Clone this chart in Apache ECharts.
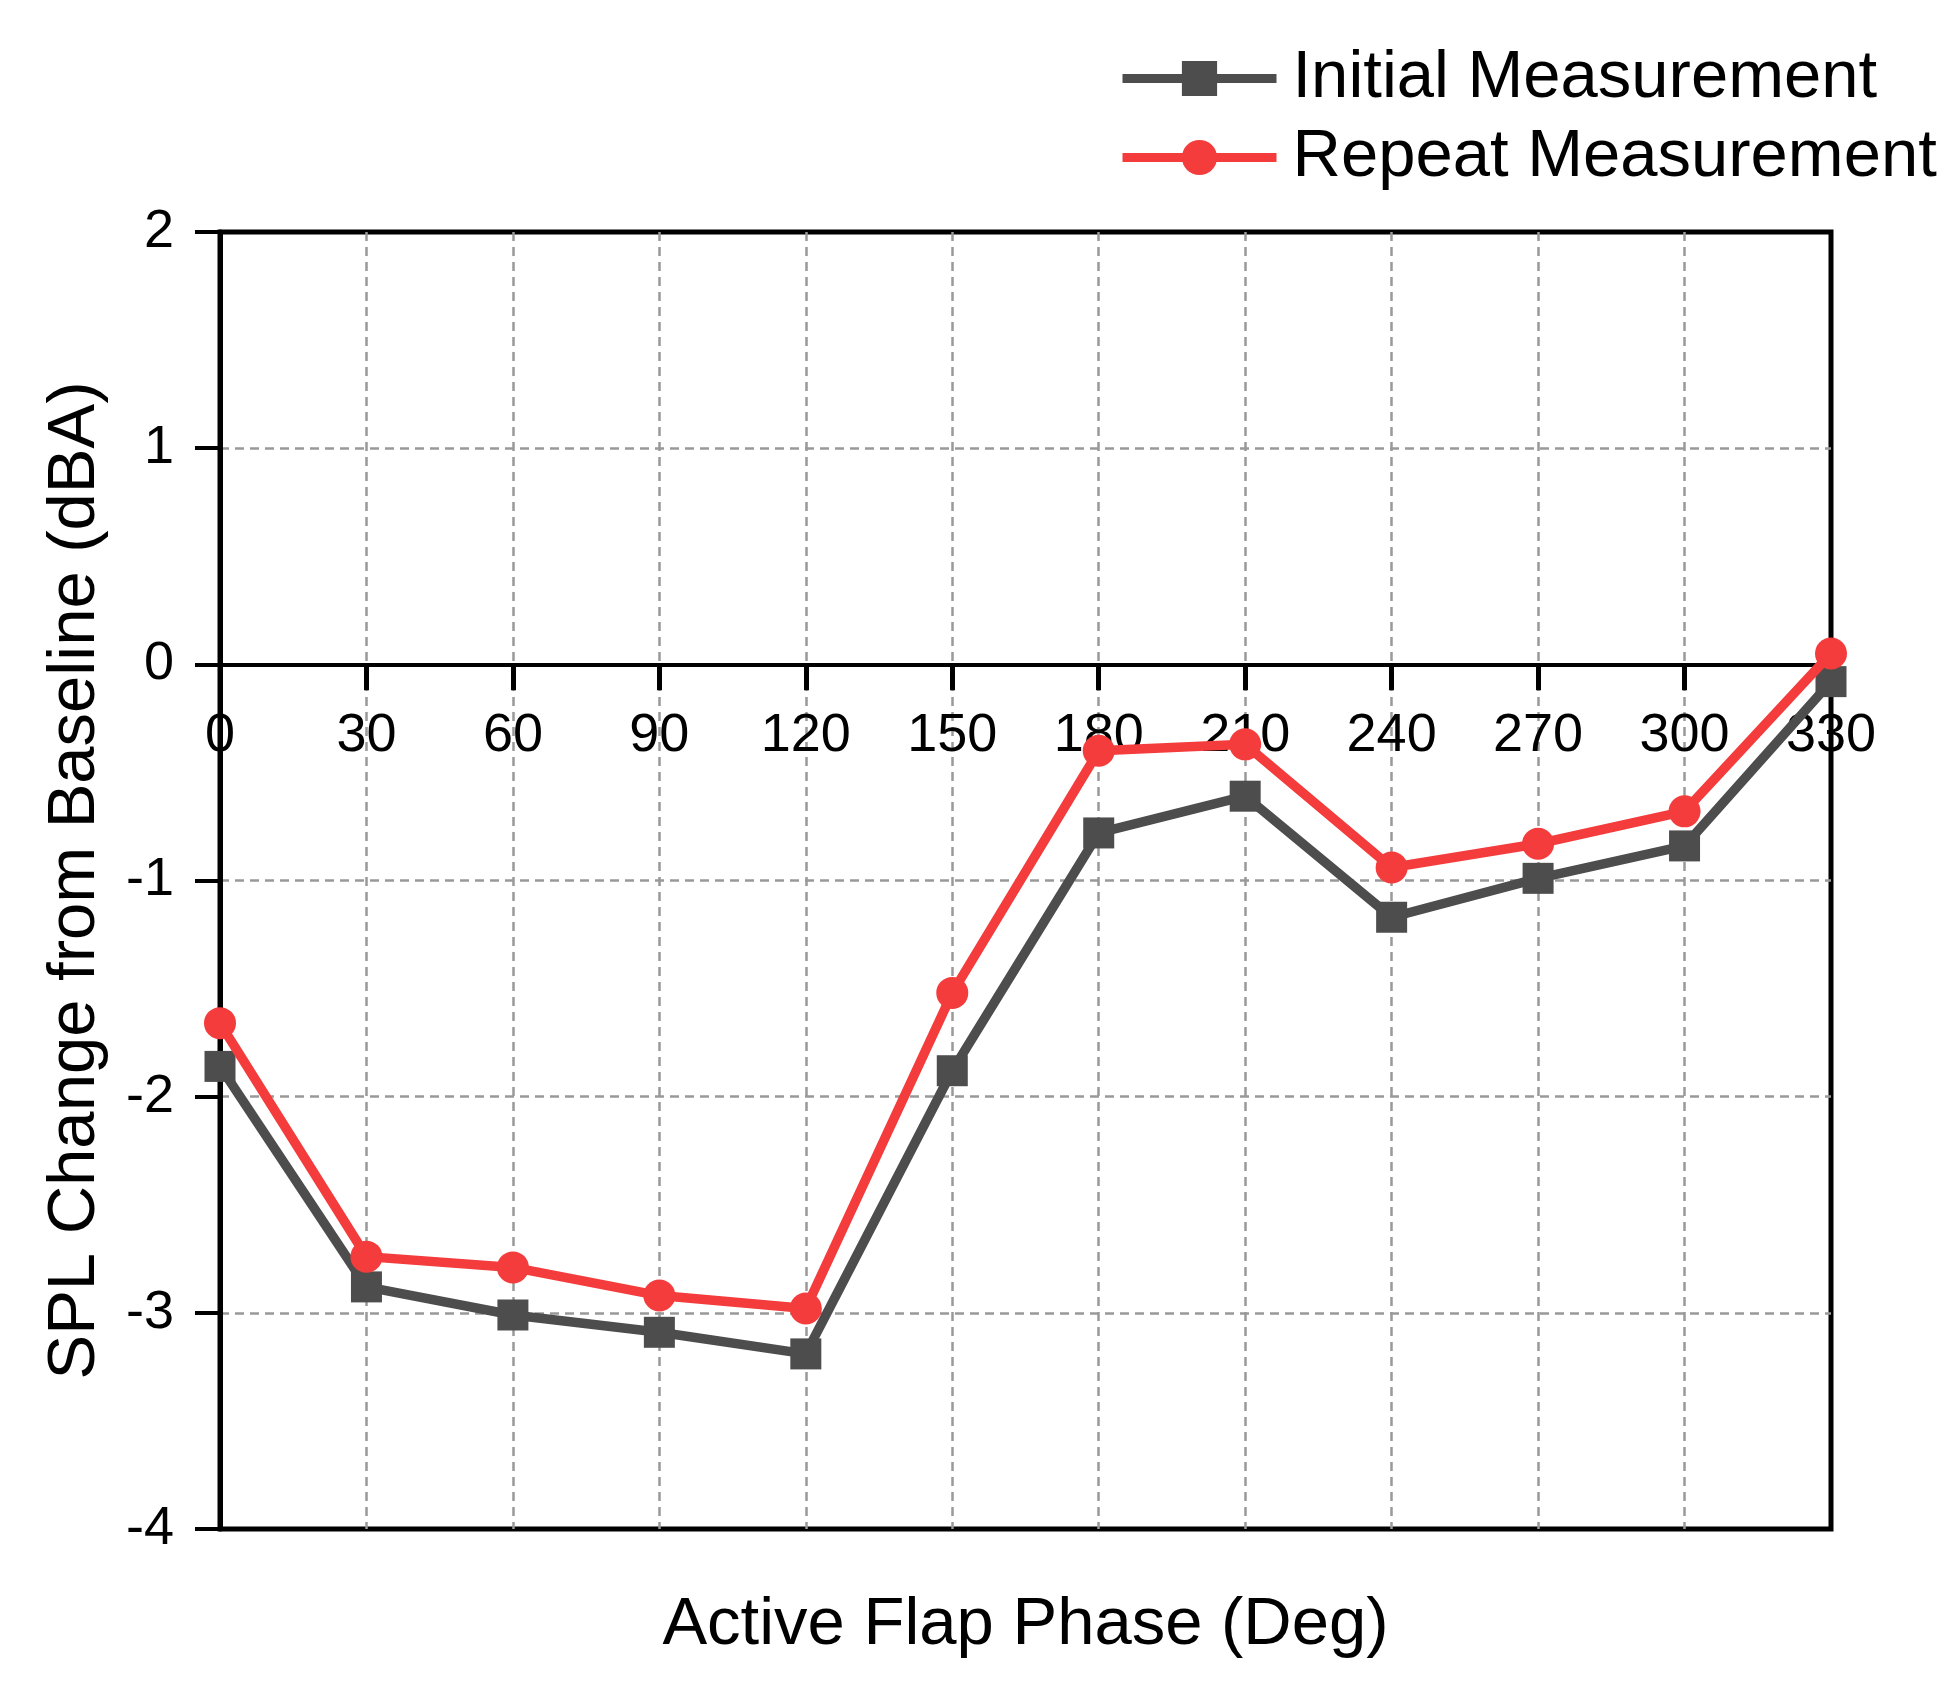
<!DOCTYPE html>
<html>
<head>
<meta charset="utf-8">
<script src="https://cdn.jsdelivr.net/npm/echarts@6/dist/echarts.min.js"></script>
<style>
html,body{margin:0;padding:0;background:#fff;}
#chart{width:1956px;height:1686px;}
</style>
</head>
<body>
<div id="chart"></div>
<script>
const phases = [0, 30, 60, 90, 120, 150, 180, 210, 240, 270, 300, 330];
const initialMeasurement = [-1.86, -2.88, -3.01, -3.09, -3.19, -1.88, -0.78, -0.61, -1.17, -0.99, -0.84, -0.08];
const repeatMeasurement = [-1.66, -2.74, -2.79, -2.92, -2.98, -1.52, -0.40, -0.37, -0.94, -0.83, -0.68, 0.05];
const seriesNames = ['Initial Measurement', 'Repeat Measurement'];
const xAxisTitle = 'Active Flap Phase (Deg)';
const yAxisTitle = 'SPL Change from Baseline (dBA)';

const font = '"Liberation Sans", Arial, sans-serif';
const pair = (xs, ys) => xs.map((x, i) => [x, ys[i]]);

const chart = echarts.init(document.getElementById('chart'), null, {renderer: 'canvas'});
chart.setOption({
  backgroundColor: '#ffffff',
  animation: false,
  textStyle: {fontFamily: font, color: '#000'},
  legend: {
    left: 1118,
    top: 45,
    orient: 'vertical',
    padding: 0,
    itemWidth: 154,
    itemHeight: 44,
    itemGap: 12,
    lineStyle: {width: 9},
    textStyle: {fontFamily: font, fontSize: 67, color: '#000', padding: [0, 0, 0, 11]},
    data: seriesNames
  },
  grid: {
    left: 220, right: 125, top: 232, bottom: 157,
    show: true, borderColor: '#000', borderWidth: 5,
    containLabel: false,
    outerBoundsMode: 'none'
  },
  xAxis: {
    type: 'value',
    min: 0, max: 330, interval: 30,
    position: 'bottom',
    name: xAxisTitle,
    nameLocation: 'middle',
    nameGap: 63,
    nameTextStyle: {fontFamily: font, fontSize: 67, color: '#000'},
    axisLine: {show: true, onZero: true, lineStyle: {color: '#000', width: 4}},
    axisTick: {show: true, length: 26, lineStyle: {color: '#000', width: 5}},
    axisLabel: {fontFamily: font, fontSize: 54, color: '#000', margin: -820, showMinLabel: true, showMaxLabel: true},
    splitLine: {show: true, showMinLine: false, showMaxLine: false, lineStyle: {color: '#999', width: 2.5, type: [9, 6]}}
  },
  yAxis: {
    type: 'value',
    min: -4, max: 2, interval: 1,
    name: yAxisTitle,
    nameLocation: 'middle',
    nameRotate: 90,
    nameGap: 111,
    nameTextStyle: {fontFamily: font, fontSize: 67, color: '#000'},
    axisLine: {show: true, lineStyle: {color: '#000', width: 5}},
    axisTick: {show: true, length: 25, lineStyle: {color: '#000', width: 4}},
    axisLabel: {fontFamily: font, fontSize: 54, color: '#000', margin: 46},
    splitLine: {show: true, showMinLine: false, showMaxLine: false, lineStyle: {color: '#999', width: 2.5, type: [9, 6]}}
  },
  series: [
    {
      name: seriesNames[0],
      type: 'line',
      data: pair(phases, initialMeasurement),
      symbol: 'rect',
      symbolSize: 31,
      lineStyle: {color: '#4d4d4d', width: 9.5},
      itemStyle: {color: '#4d4d4d'},
      z: 3
    },
    {
      name: seriesNames[1],
      type: 'line',
      data: pair(phases, repeatMeasurement),
      symbol: 'circle',
      symbolSize: 32,
      lineStyle: {color: '#f43c3c', width: 9.5},
      itemStyle: {color: '#f43c3c'},
      z: 4
    }
  ]
});
</script>
</body>
</html>
